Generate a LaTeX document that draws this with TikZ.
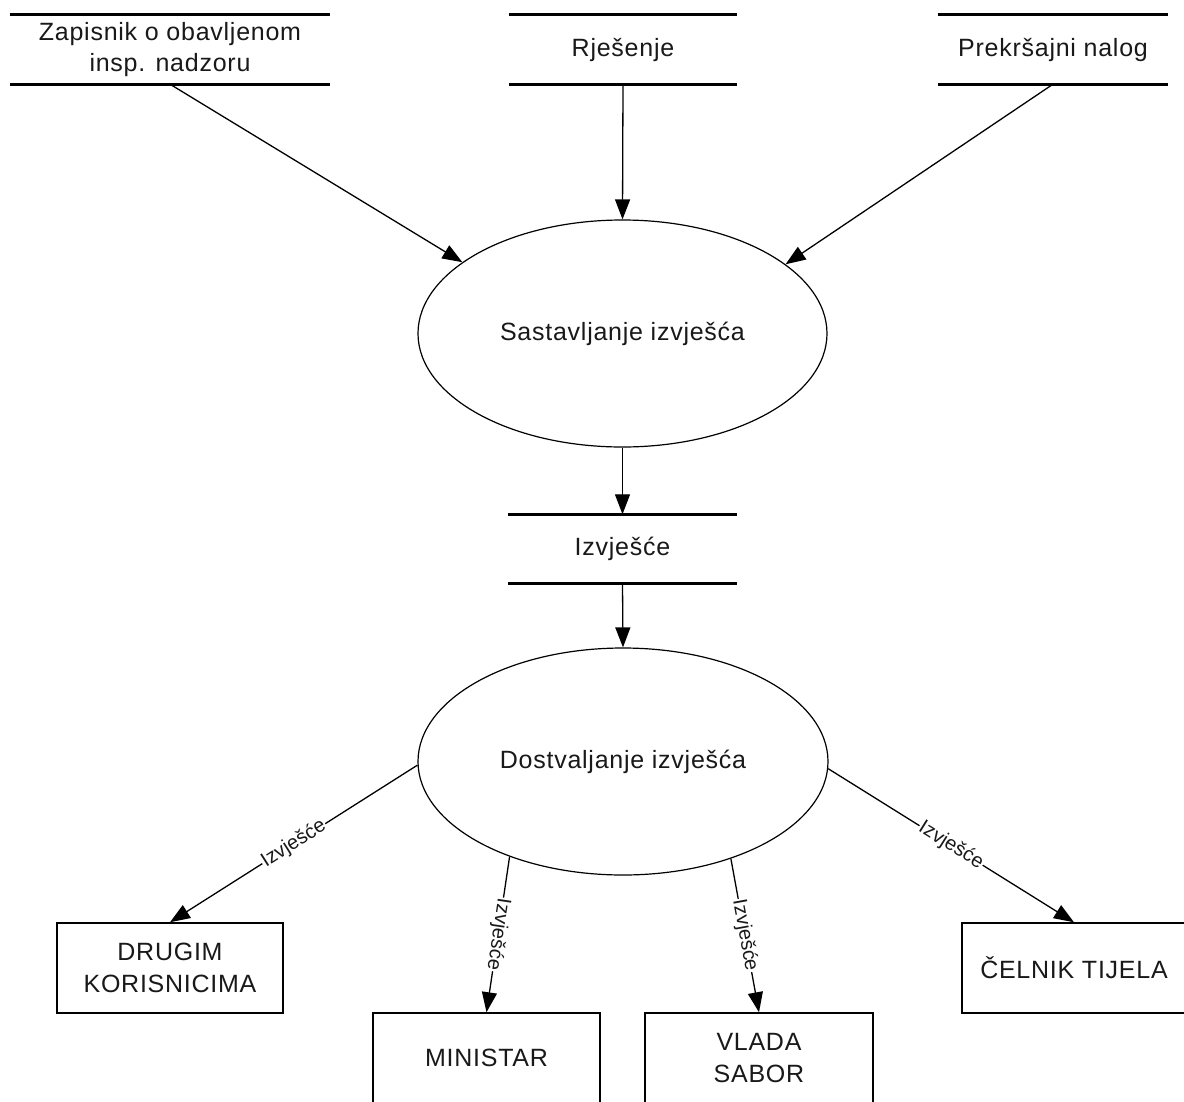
\documentclass[tikz,border=0pt]{standalone}
\usepackage{fontspec}
\setmainfont{Liberation Sans}[LetterSpace=3]
\newfontfamily\lblfont{Liberation Sans}
\usetikzlibrary{arrows.meta,shapes.geometric}
\begin{document}
\begin{tikzpicture}[x=1pt,y=-1pt,
  flow/.style={-{Triangle[length=20pt,width=15pt]}, line width=1.3pt},
  store/.style={minimum height=69pt, inner sep=0pt, align=center, text=black!90, font=\fontsize{25}{31}\selectfont},
  storeline/.style={line width=3pt},
  proc/.style={ellipse, draw, line width=1.2pt, inner sep=0pt, text=black!90, font=\fontsize{25}{31}\selectfont},
  ent/.style={rectangle, draw, line width=1.5pt, minimum width=227pt, minimum height=90pt, inner sep=0pt, align=center, text=black!90, font=\fontsize{25}{32}\selectfont},
  lbl/.style={sloped, fill=white, inner sep=1pt, text=black!90, font=\lblfont\fontsize{20}{22}\selectfont}]
\fill[white] (0,0) rectangle (1184,1101);
\useasboundingbox (0,0) rectangle (1184,1101);
% nodes
\node[store, minimum width=320pt] (zap) at (170,49.5) {Zapisnik o obavljenom\\insp. nadzoru};
\node[store, minimum width=228pt] (rje) at (623,49.5) {Rješenje};
\node[store, minimum width=230pt] (pre) at (1053,49.5) {Prekršajni nalog};
\node[proc, minimum width=409pt, minimum height=227pt] (sas) at (622.5,333.5) {Sastavljanje izvješća};
\node[store, minimum width=229pt] (izv) at (622.5,549) {Izvješće};
\node[proc, minimum width=410pt, minimum height=227pt] (dos) at (623,761.5) {Dostvaljanje izvješća};
\node[ent, minimum width=226pt] (dru) at (170,968) {DRUGIM\\KORISNICIMA};
\node[ent] (min) at (486.5,1058) {MINISTAR};
\node[ent, minimum width=228pt] (vla) at (759,1058) {VLADA\\SABOR};
\node[ent, minimum width=224pt] (cel) at (1074,968) {ČELNIK TIJELA};
% store lines
\foreach \n in {zap,rje,pre,izv}{
  \draw[storeline] (\n.north west) -- (\n.north east);
  \draw[storeline] (\n.south west) -- (\n.south east);
}
% connectors
\draw[flow] (zap.south) -- (sas.156);
\draw[flow] (rje.south) -- (sas.north);
\draw[flow] (pre.south) -- (sas.23.5);
\draw[flow] (sas.south) -- (izv.north);
\draw[flow] (izv.south) -- (dos.north);
\draw[flow] (dos.181.5) -- node[lbl] {Izvješće} (dru.north);
\draw[flow] (dos.220.8) -- node[lbl, allow upside down] {Izvješće} (min.north);
\draw[flow] (dos.318.2) -- node[lbl] {Izvješće} (vla.north);
\draw[flow] (dos.358.2) -- node[lbl] {Izvješće} (cel.north);
\end{tikzpicture}
\end{document}
